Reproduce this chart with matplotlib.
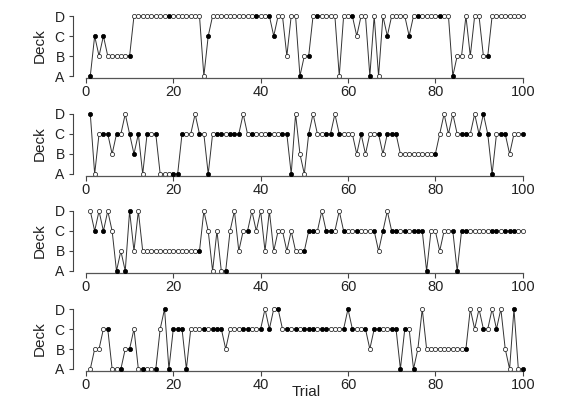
import matplotlib
matplotlib.use("Agg")
import matplotlib.pyplot as plt

plt.rcParams['font.family'] = ['Liberation Sans', 'DejaVu Sans']

# deck chosen on each of 100 trials, one string per ten trials
deck_1 = ["ACBCBBBBBB", "DDDDDDDDDD", "DDDDDDACDD", "DDDDDDDDDD", "DDCDDBDDAB",
          "BDDDDDDADD", "DCDDADADCD", "DDDCDDDDDD", "DDDABBDBDD", "BBDDDDDDDD"]
deck_2 = ["DACCCBCCDC", "BCACCCAAAA", "ACCCDCCACC", "CCCCCDCCCC", "CCCCCCADBA",
          "CDCCCCDCCC", "CBCBCCCBCC", "CBBBBBBBBB", "CDCDCCCCDC", "DCACCCBCCC"]
deck_3 = ["DCDCDCABAD", "BDBBBBBBBB", "BBBBBBDCAC", "AACDBCCDCD", "BDBCCBCBBB",
          "CCCDCCCDCC", "CCCCCCBCDC", "CCCCCCCACC", "BCCCACCCCC", "CCCCCCCCCC"]
deck_4 = ["ABBCCAAABB", "CAAAAACDAC", "CCACCCCCCC", "CBCCCCCCCC", "DCDDCCCCCC",
          "CCCCCCCCCD", "CCCCBCCCCC", "CACCABDBBB", "BBBBBBBDCD", "CCDCDBADAA"]

# 1 = filled marker, 0 = open marker
fill_1 = ["1101000001", "0000000010", "0000000100", "0000000010", "0110000010",
          "1010000000", "1000100010", "0001010000", "1001000000", "0100000000"]
fill_2 = ["1001101001", "1101010001", "1100010101", "1011100100", "0100111000",
          "1000110100", "0010001011", "1000000001", "0000011001", "1110110001"]
fill_3 = ["0101001011", "0000000000", "0000010000", "0100001000", "0000000001",
          "1100110010", "0100010101", "1010111100", "0001111000", "0011011100"]
fill_4 = ["0000100101", "0010010111", "1110001011", "1000011001", "0101010101",
          "1101100011", "1001011001", "1110100000", "0000001000", "1001000101"]

decks = ["A", "B", "C", "D"]
x_ticks = [0, 20, 40, 60, 80, 100]

panels = [(deck_1, fill_1), (deck_2, fill_2), (deck_3, fill_3), (deck_4, fill_4)]

fig = plt.figure(figsize=(5.76, 3.99), dpi=100)
W, H = 576, 399
tops = [13.6, 111.6, 208.6, 306.6]
ph = 64.8

for (dk, fl), top in zip(panels, tops):
    ax = fig.add_axes([73 / W, 1 - (top + ph) / H, 467 / W, ph / H])
    seq = "".join(dk)
    flags = "".join(fl)
    trial = list(range(1, len(seq) + 1))
    y = [decks.index(c) + 1 for c in seq]
    ax.plot(trial, y, color="#333333", lw=0.7, zorder=1)
    xf = [t for t, f in zip(trial, flags) if f == "1"]
    yf = [v for v, f in zip(y, flags) if f == "1"]
    xo = [t for t, f in zip(trial, flags) if f == "0"]
    yo = [v for v, f in zip(y, flags) if f == "0"]
    ax.plot(xo, yo, "o", ms=3.0, mfc="white", mec="#222222", mew=0.55, zorder=2)
    ax.plot(xf, yf, "o", ms=3.0, mfc="black", mec="black", mew=0.55, zorder=3)

    ax.set_xlim(-2.96, 103.96)
    ax.set_ylim(0.88, 4.12)
    for s in ["top", "right"]:
        ax.spines[s].set_visible(False)
    ax.spines["left"].set_bounds(1, 4)
    ax.spines["bottom"].set_bounds(0, 100)
    ax.spines["left"].set_color("#444444")
    ax.spines["bottom"].set_color("#555555")
    ax.spines["left"].set_linewidth(0.8)
    ax.spines["bottom"].set_linewidth(0.9)
    ax.set_xticks(x_ticks)
    ax.set_yticks([1, 2, 3, 4])
    ax.set_yticklabels(decks)
    ax.tick_params(axis="x", length=3.5, width=0.8, pad=1.5, labelsize=10.5, colors="#444444", labelcolor="#222222")
    ax.tick_params(axis="y", length=3, width=0.8, pad=3, labelsize=10, colors="#444444", labelcolor="#222222")
    fig.text(40 / W, 1 - (top + ph / 2) / H, "Deck", rotation=90,
             ha="center", va="center", fontsize=11, color="#222222")

fig.text(306 / W, 1 - 392 / H, "Trial", ha="center", va="center", fontsize=11, color="#222222")

fig.savefig("out.png", dpi=100)
